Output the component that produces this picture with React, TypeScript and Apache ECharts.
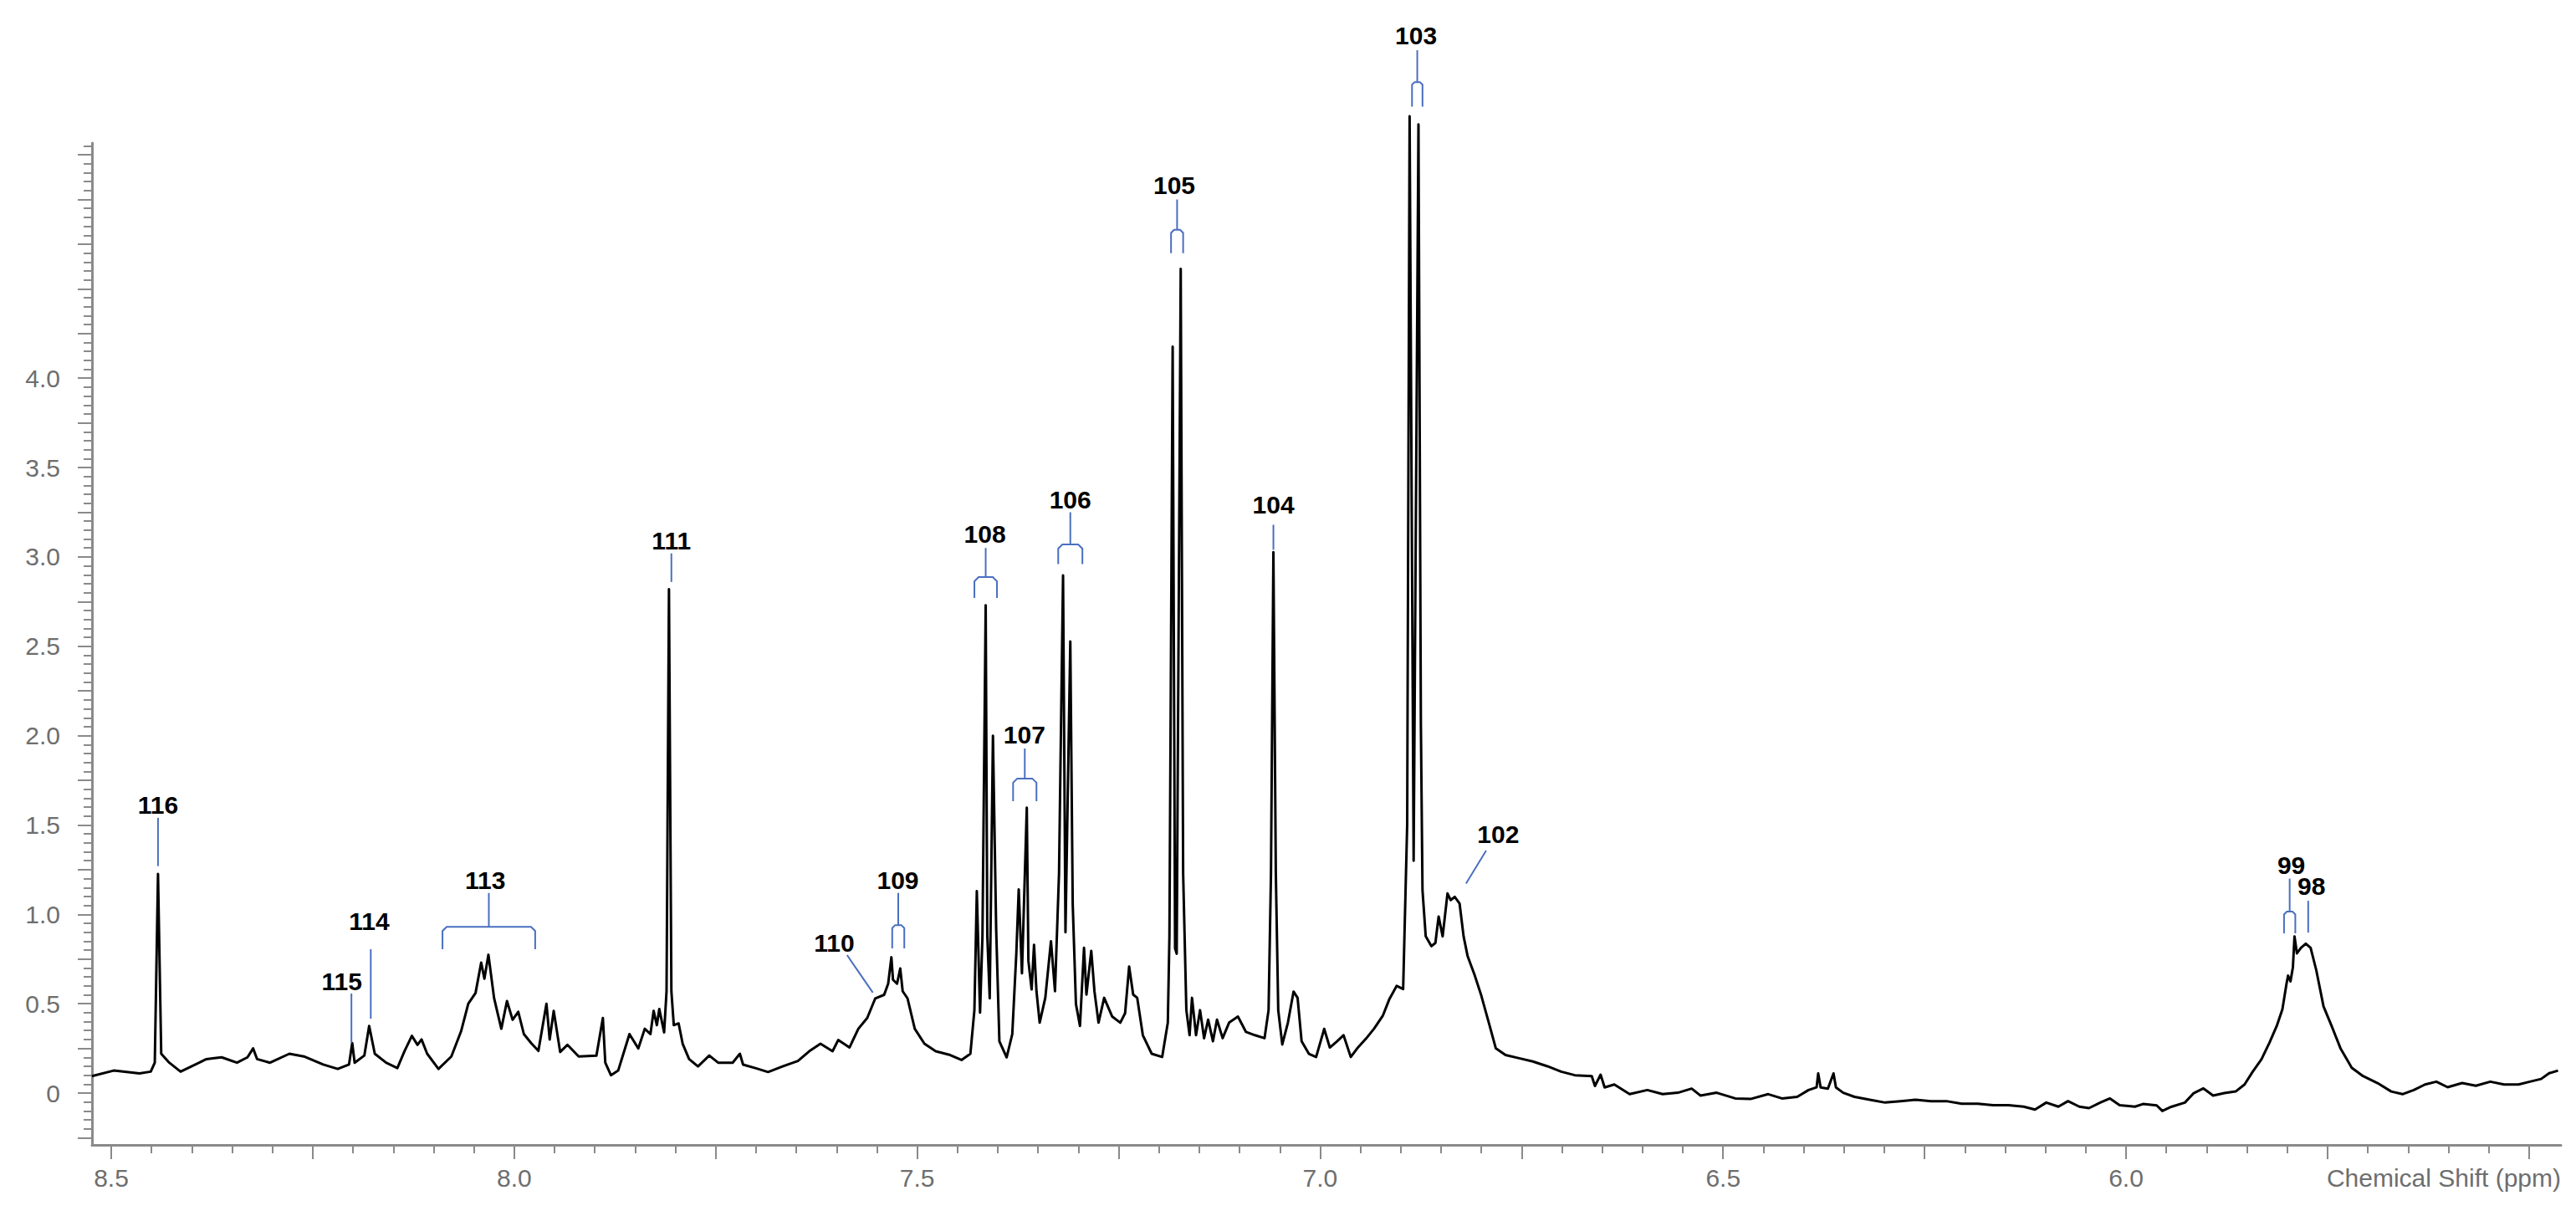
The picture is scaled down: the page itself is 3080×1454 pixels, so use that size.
import React, { useEffect, useRef } from "react";
import * as echarts from "echarts";

// ---- axis ranges / ticks ----
const X_MIN = 5.4604;
const X_MAX = 8.5239;
const Y_MIN = -0.29;
const Y_MAX = 5.316;
const X_LABEL_VALUES = [6.0, 6.5, 7.0, 7.5, 8.0, 8.5];
const X_MAJOR_TICKS = [5.5, 5.75, 6.0, 6.25, 6.5, 6.75, 7.0, 7.25, 7.5, 7.75, 8.0, 8.25, 8.5];
const Y_LABEL_VALUES = [0, 0.5, 1.0, 1.5, 2.0, 2.5, 3.0, 3.5, 4.0];
const Y_MAJOR_TICKS = [-0.25, 0, 0.25, 0.5, 0.75, 1.0, 1.25, 1.5, 1.75, 2.0, 2.25, 2.5, 2.75, 3.0, 3.25, 3.5, 3.75, 4.0, 4.25, 4.5, 4.75, 5.0, 5.25];
const AXIS_NAME = "Chemical Shift (ppm)";

// ---- spectrum segments: [chemical shift (ppm), intensity] ----
const SEG_A: [number, number][] = [
  [8.524, 0.095], [8.497, 0.126], [8.465, 0.11], [8.451, 0.12], [8.446, 0.17], [8.442, 1.226], [8.438, 0.22],
  [8.428, 0.17], [8.414, 0.12], [8.4, 0.15], [8.382, 0.19], [8.363, 0.2], [8.344, 0.17], [8.331, 0.2], [8.324, 0.25],
  [8.319, 0.19], [8.303, 0.17], [8.279, 0.22], [8.261, 0.205], [8.237, 0.16], [8.219, 0.135], [8.205, 0.16],
  [8.201, 0.28], [8.198, 0.17], [8.186, 0.21], [8.18, 0.376], [8.173, 0.22], [8.159, 0.17], [8.145, 0.14],
  [8.136, 0.236], [8.127, 0.32], [8.12, 0.27], [8.115, 0.3], [8.108, 0.22], [8.094, 0.135], [8.078, 0.205],
  [8.066, 0.345], [8.057, 0.5], [8.048, 0.56], [8.041, 0.73], [8.037, 0.64], [8.032, 0.774], [8.025, 0.532],
  [8.021, 0.455], [8.016, 0.36], [8.009, 0.515], [8.002, 0.41], [7.995, 0.455], [7.988, 0.33], [7.979, 0.28],
  [7.97, 0.236], [7.96, 0.5], [7.956, 0.3], [7.951, 0.46], [7.943, 0.23], [7.934, 0.27], [7.92, 0.205],
  [7.898, 0.21], [7.89, 0.42], [7.887, 0.17], [7.88, 0.1], [7.871, 0.126],
];
const SEG_B: [number, number][] = [
  [7.857, 0.33], [7.846, 0.25], [7.838, 0.36], [7.831, 0.33], [7.827, 0.46], [7.823, 0.38], [7.82, 0.47],
  [7.814, 0.34], [7.811, 0.57], [7.808, 2.82], [7.805, 0.57], [7.802, 0.38], [7.796, 0.39], [7.791, 0.276],
  [7.783, 0.19], [7.772, 0.149], [7.758, 0.21], [7.747, 0.17], [7.729, 0.17], [7.72, 0.22], [7.716, 0.159],
  [7.7, 0.139], [7.685, 0.118], [7.667, 0.149], [7.648, 0.18], [7.634, 0.234], [7.62, 0.276], [7.605, 0.234],
  [7.598, 0.297], [7.584, 0.255], [7.573, 0.36], [7.562, 0.42], [7.552, 0.53], [7.541, 0.55], [7.536, 0.612],
  [7.532, 0.76], [7.53, 0.634], [7.525, 0.612], [7.521, 0.697], [7.518, 0.57], [7.512, 0.53], [7.503, 0.36],
  [7.491, 0.276], [7.477, 0.234], [7.459, 0.213],
];
const SEG_C: [number, number][] = [
  [7.445, 0.185], [7.434, 0.22], [7.429, 0.464], [7.426, 1.13], [7.422, 0.45], [7.419, 0.88], [7.415, 2.73],
  [7.413, 0.88], [7.41, 0.53], [7.406, 2.0], [7.402, 0.918], [7.398, 0.29], [7.389, 0.2], [7.382, 0.33],
  [7.377, 0.78], [7.374, 1.14], [7.37, 0.67], [7.364, 1.597], [7.362, 0.74], [7.358, 0.58], [7.355, 0.83],
  [7.352, 0.57], [7.348, 0.394], [7.341, 0.534], [7.334, 0.85], [7.329, 0.57], [7.324, 1.23], [7.319, 2.897],
  [7.316, 0.9], [7.31, 2.527], [7.307, 1.056], [7.303, 0.498], [7.298, 0.376], [7.293, 0.813], [7.29, 0.551],
  [7.284, 0.796], [7.28, 0.568], [7.275, 0.394], [7.268, 0.533], [7.258, 0.428], [7.248, 0.394], [7.242, 0.447],
  [7.237, 0.708], [7.232, 0.551], [7.227, 0.533], [7.22, 0.324], [7.209, 0.22], [7.196, 0.202], [7.189, 0.394],
  [7.187, 0.88], [7.183, 4.177], [7.18, 0.81], [7.178, 0.78], [7.173, 4.612], [7.17, 1.23], [7.166, 0.464],
  [7.162, 0.324], [7.159, 0.533], [7.154, 0.324], [7.149, 0.464], [7.144, 0.307], [7.139, 0.411], [7.133, 0.29],
  [7.128, 0.411], [7.121, 0.307], [7.113, 0.394], [7.102, 0.428], [7.092, 0.342], [7.081, 0.324], [7.069, 0.307],
  [7.064, 0.464], [7.061, 1.23], [7.058, 3.026], [7.055, 1.23], [7.052, 0.464], [7.047, 0.272], [7.04, 0.394],
  [7.033, 0.568], [7.028, 0.533], [7.023, 0.29], [7.014, 0.22], [7.005, 0.202], [6.995, 0.359], [6.988, 0.255],
  [6.979, 0.29], [6.971, 0.324], [6.962, 0.202],
];
const SEG_D: [number, number][] = [
  [6.954, 0.25], [6.943, 0.305], [6.933, 0.361], [6.922, 0.435], [6.914, 0.527], [6.905, 0.6], [6.897, 0.582],
  [6.895, 0.951], [6.892, 1.504], [6.889, 5.466], [6.884, 1.3], [6.878, 5.42], [6.875, 2.06], [6.873, 1.135],
  [6.869, 0.877], [6.862, 0.822], [6.857, 0.84], [6.853, 0.988], [6.848, 0.877], [6.842, 1.117], [6.838, 1.08],
  [6.833, 1.098], [6.827, 1.061], [6.822, 0.877], [6.817, 0.766], [6.808, 0.656], [6.8, 0.545], [6.791, 0.398],
  [6.782, 0.25], [6.77, 0.213], [6.753, 0.195], [6.736, 0.177], [6.718, 0.15], [6.701, 0.12], [6.684, 0.1],
];
const SEG_E: [number, number][] = [
  [6.663, 0.095], [6.659, 0.04], [6.652, 0.103], [6.647, 0.032], [6.635, 0.048], [6.616, -0.006], [6.594, 0.017],
  [6.575, -0.006], [6.556, 0.002], [6.539, 0.025], [6.528, -0.014], [6.508, 0.002], [6.485, -0.03], [6.466, -0.033],
  [6.444, -0.006], [6.427, -0.03], [6.408, -0.021], [6.394, 0.017], [6.384, 0.032], [6.382, 0.11], [6.379, 0.032],
  [6.37, 0.025], [6.363, 0.11], [6.36, 0.032], [6.351, 0.002], [6.337, -0.021], [6.318, -0.037], [6.299, -0.053],
  [6.28, -0.045], [6.261, -0.037], [6.242, -0.045], [6.223, -0.045], [6.204, -0.06], [6.184, -0.06], [6.165, -0.068],
  [6.146, -0.068], [6.127, -0.076], [6.113, -0.092], [6.099, -0.053], [6.084, -0.076], [6.072, -0.045],
  [6.058, -0.076], [6.046, -0.084], [6.032, -0.053], [6.02, -0.03], [6.008, -0.068], [5.989, -0.076],
];
const SEG_F: [number, number][] = [
  [5.979, -0.061], [5.962, -0.069], [5.955, -0.1], [5.944, -0.077], [5.927, -0.053], [5.916, 0.0], [5.904, 0.026],
  [5.892, -0.014], [5.878, 0.0], [5.864, 0.009], [5.853, 0.048], [5.843, 0.119], [5.832, 0.189], [5.822, 0.283],
  [5.813, 0.376], [5.806, 0.469], [5.801, 0.61], [5.799, 0.657], [5.796, 0.625], [5.793, 0.703], [5.791, 0.876],
  [5.788, 0.782], [5.783, 0.813], [5.777, 0.836], [5.771, 0.813], [5.764, 0.688], [5.755, 0.485], [5.745, 0.376],
  [5.734, 0.251], [5.72, 0.142], [5.706, 0.095], [5.688, 0.056], [5.671, 0.009], [5.657, -0.006], [5.643, 0.017],
  [5.629, 0.048], [5.615, 0.064], [5.601, 0.033], [5.583, 0.056], [5.566, 0.041], [5.548, 0.064], [5.531, 0.048],
  [5.513, 0.048], [5.499, 0.064], [5.485, 0.079], [5.475, 0.111], [5.464, 0.126],
];

// ---- peak annotations (data coordinates) ----
// label: [text, ppm, intensity of label centre]
const PEAK_LABELS: [string, number, number][] = [
  ["116", 8.442, 1.614], ["115", 8.214, 0.627], ["114", 8.18, 0.961], ["113", 8.036, 1.19],
  ["111", 7.805, 3.09], ["110", 7.603, 0.842], ["109", 7.524, 1.19], ["108", 7.416, 3.13],
  ["107", 7.367, 2.005], ["106", 7.31, 3.32], ["105", 7.181, 5.08], ["104", 7.058, 3.29],
  ["103", 6.881, 5.915], ["102", 6.779, 1.45], ["99", 5.795, 1.277], ["98", 5.77, 1.156],
];
// single leader lines: [ppm1, y1, ppm2, y2]
const LEADERS: [number, number, number, number][] = [
  [8.442, 1.54, 8.442, 1.27], [8.202, 0.557, 8.202, 0.281], [8.178, 0.805, 8.178, 0.416],
  [7.805, 3.02, 7.805, 2.86], [7.587, 0.772, 7.555, 0.562], [7.058, 3.18, 7.058, 3.04],
  [6.794, 1.357, 6.819, 1.172], [5.774, 1.076, 5.774, 0.898],
];
// brackets: [left ppm, right ppm, stem top, bar level, leg bottom]
const BRACKETS: [number, number, number, number, number][] = [
  [8.089, 7.974, 1.12, 0.93, 0.805], [7.531, 7.516, 1.12, 0.94, 0.81], [7.429, 7.401, 3.05, 2.887, 2.77],
  [7.381, 7.352, 1.928, 1.76, 1.633], [7.325, 7.295, 3.25, 3.07, 2.96], [7.185, 7.17, 5.0, 4.83, 4.7],
  [6.886, 6.873, 5.835, 5.657, 5.52], [5.804, 5.79, 1.2, 1.015, 0.894],
];

const AXIS_COLOR = "#8a8a8a";
const LABEL_COLOR = "#6e6e6e";
const ANNO_COLOR = "#4a6fbf";
const FONT = '"Liberation Sans", Arial, sans-serif';

function minorTicks(from: number, to: number, step: number): number[] {
  const out: number[] = [];
  const n = Math.round((to - from) / step);
  for (let i = 0; i <= n; i++) out.push(Math.round((from + i * step) * 1000) / 1000);
  return out;
}

export default function App() {
  const ref = useRef<HTMLDivElement>(null);

  useEffect(() => {
    if (!ref.current) return;
    const chart = echarts.init(ref.current, null, { renderer: "svg" });
    const spectrum = [...SEG_A, ...SEG_B, ...SEG_C, ...SEG_D, ...SEG_E, ...SEG_F];

    const xCommon = {
      type: "value" as const,
      min: X_MIN,
      max: X_MAX,
      inverse: true,
      position: "bottom" as const,
      gridIndex: 0,
      splitLine: { show: false },
    };
    const yCommon = {
      type: "value" as const,
      min: Y_MIN,
      max: Y_MAX,
      position: "left" as const,
      gridIndex: 0,
      splitLine: { show: false },
    };

    chart.setOption({
      animation: false,
      backgroundColor: "#ffffff",
      grid: { left: 110, right: 18, top: 171, bottom: 85, containLabel: false },
      xAxis: [
        {
          ...xCommon,
          axisLine: { show: true, onZero: false, lineStyle: { color: AXIS_COLOR, width: 3 } },
          axisTick: { show: true, customValues: X_MAJOR_TICKS, length: 17, lineStyle: { color: AXIS_COLOR, width: 2 } },
          axisLabel: {
            show: true,
            customValues: X_LABEL_VALUES,
            formatter: (v: number) => v.toFixed(1),
            margin: 24,
            color: LABEL_COLOR,
            fontSize: 30,
            fontFamily: FONT,
          },
        },
        {
          ...xCommon,
          axisLine: { show: false, onZero: false },
          axisTick: { show: true, customValues: minorTicks(5.5, 8.5, 0.05), length: 10, lineStyle: { color: AXIS_COLOR, width: 2 } },
          axisLabel: { show: false },
        },
      ],
      yAxis: [
        {
          ...yCommon,
          axisLine: { show: true, onZero: false, lineStyle: { color: AXIS_COLOR, width: 3 } },
          axisTick: { show: true, customValues: Y_MAJOR_TICKS, length: 17, lineStyle: { color: AXIS_COLOR, width: 2 } },
          axisLabel: {
            show: true,
            customValues: Y_LABEL_VALUES,
            formatter: (v: number) => (v === 0 ? "0" : v.toFixed(1)),
            margin: 38,
            color: LABEL_COLOR,
            fontSize: 30,
            fontFamily: FONT,
          },
        },
        {
          ...yCommon,
          axisLine: { show: false, onZero: false },
          axisTick: { show: true, customValues: minorTicks(-0.25, 5.3, 0.05), length: 10, lineStyle: { color: AXIS_COLOR, width: 2 } },
          axisLabel: { show: false },
        },
      ],
      series: [
        {
          type: "line",
          name: "spectrum",
          xAxisIndex: 0,
          yAxisIndex: 0,
          data: spectrum,
          showSymbol: false,
          symbol: "none",
          clip: false,
          silent: true,
          lineStyle: { color: "#000000", width: 3, join: "round" },
          z: 3,
        },
      ],
    });

    const px = (x: number, y: number) =>
      chart.convertToPixel({ xAxisIndex: 0, yAxisIndex: 0 }, [x, y]) as number[];

    const graphics: any[] = [];
    LEADERS.forEach(([x1, y1, x2, y2]) => {
      const a = px(x1, y1);
      const b = px(x2, y2);
      graphics.push({
        type: "line",
        shape: { x1: a[0], y1: a[1], x2: b[0], y2: b[1] },
        style: { stroke: ANNO_COLOR, lineWidth: 2 },
        z: 10,
      });
    });
    BRACKETS.forEach(([l, r, top, bar, leg]) => {
      const pl = px(l, bar);
      const pr = px(r, bar);
      const pTop = px((l + r) / 2, top);
      const pLeg = px(l, leg);
      const w = pr[0] - pl[0];
      const rad = Math.min(5, w / 4);
      graphics.push({
        type: "polyline",
        shape: {
          points: [
            [pl[0], pLeg[1]],
            [pl[0], pl[1] + rad],
            [pl[0] + rad, pl[1]],
            [pr[0] - rad, pr[1]],
            [pr[0], pr[1] + rad],
            [pr[0], pLeg[1]],
          ],
        },
        style: { stroke: ANNO_COLOR, lineWidth: 2, fill: "none" },
        z: 10,
      });
      graphics.push({
        type: "line",
        shape: { x1: pTop[0], y1: pTop[1], x2: pTop[0], y2: pl[1] },
        style: { stroke: ANNO_COLOR, lineWidth: 2 },
        z: 10,
      });
    });
    PEAK_LABELS.forEach(([t, x, y]) => {
      const p = px(x, y);
      graphics.push({
        type: "text",
        x: p[0],
        y: p[1],
        style: {
          text: t,
          font: `bold 30px ${FONT}`,
          fill: "#000000",
          align: "center",
          verticalAlign: "middle",
        },
        z: 11,
      });
    });
    graphics.push({
      type: "text",
      right: 18,
      top: 1393,
      style: { text: AXIS_NAME, font: `30px ${FONT}`, fill: LABEL_COLOR },
      z: 11,
    });

    chart.setOption({ graphic: graphics });

    return () => chart.dispose();
  }, []);

  return (
    <div
      ref={ref}
      style={{ position: "fixed", left: 0, top: 0, width: 3080, height: 1454, background: "#fff" }}
    />
  );
}
